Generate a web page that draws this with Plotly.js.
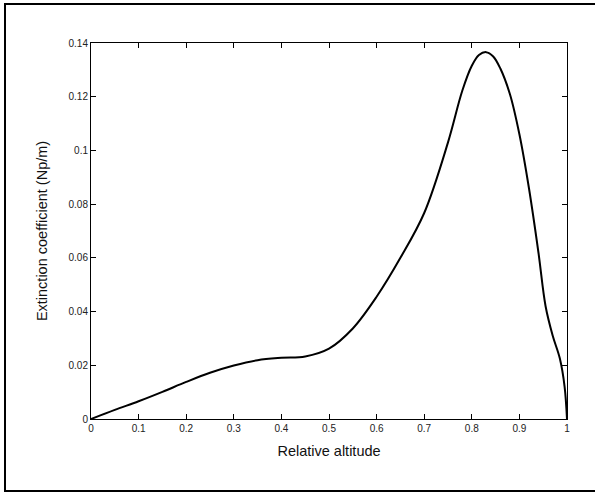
<!DOCTYPE html>
<html>
<head>
<meta charset="utf-8">
<script src="https://cdn.plot.ly/plotly-3.0.1.min.js"></script>
<style>
html,body{margin:0;padding:0;background:#fff;}
#chart{width:595px;height:492px;position:absolute;left:0;top:0;}
#frame{position:absolute;left:4px;top:3px;width:600px;height:485px;border:2px solid #000;pointer-events:none;box-sizing:content-box;}
</style>
</head>
<body>
<div id="chart"></div>
<div id="frame"></div>
<script>
const altitude = [0,0.05,0.1,0.15,0.2,0.25,0.3,0.35,0.4,0.45,0.5,0.55,0.6,0.65,0.7,0.75,0.78,0.80,0.815,0.83,0.845,0.86,0.88,0.9,0.92,0.94,0.955,0.97,0.985,0.995,1.0];
const extinction = [0,0.0034,0.0066,0.0101,0.0138,0.0172,0.0199,0.0219,0.0228,0.0233,0.0262,0.0337,0.0455,0.0600,0.0767,0.1030,0.1222,0.1315,0.1355,0.1366,0.1350,0.1305,0.1210,0.1060,0.0860,0.0620,0.0420,0.0310,0.0225,0.0120,0];
const xTicks = [0,0.1,0.2,0.3,0.4,0.5,0.6,0.7,0.8,0.9,1];
const xTickText = ['0','0.1','0.2','0.3','0.4','0.5','0.6','0.7','0.8','0.9','1'];
const yTicks = [0,0.02,0.04,0.06,0.08,0.1,0.12,0.14];
const yTickText = ['0','0.02','0.04','0.06','0.08','0.1','0.12','0.14'];

const axisCommon = {
  showline: true, linecolor: '#000', linewidth: 1, mirror: 'ticks',
  ticks: 'inside', ticklen: 5, tickcolor: '#000', tickwidth: 1,
  showgrid: false, zeroline: false, tickmode: 'array',
  tickfont: {family: 'Liberation Sans, Arial, sans-serif', size: 10, color: '#222'}
};

Plotly.newPlot('chart', [{
  x: altitude, y: extinction, type: 'scatter', mode: 'lines',
  line: {color: '#000', width: 2, shape: 'spline', smoothing: 1}
}], {
  width: 595, height: 492,
  margin: {l: 90.5, r: 28, t: 43, b: 72.5},
  paper_bgcolor: '#fff', plot_bgcolor: '#fff',
  showlegend: false,
  font: {family: 'Liberation Sans, Arial, sans-serif', color: '#000'},
  xaxis: Object.assign({}, axisCommon, {
    range: [0, 1], tickvals: xTicks, ticktext: xTickText,
    title: {text: 'Relative altitude', font: {size: 14.5, color: '#111'}, standoff: 12}
  }),
  yaxis: Object.assign({}, axisCommon, {
    range: [0, 0.14], tickvals: yTicks, ticktext: yTickText,
    title: {text: 'Extinction coefficient (Np/m)', font: {size: 14.5, color: '#111'}, standoff: 17}
  })
}, {staticPlot: true});
</script>
</body>
</html>
